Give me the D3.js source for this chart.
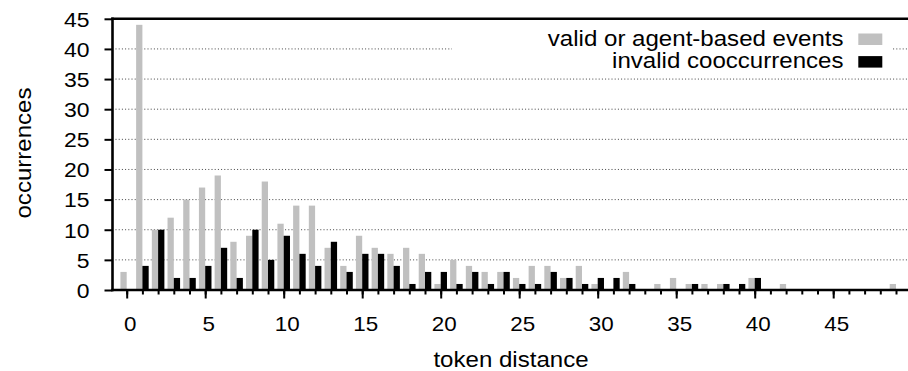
<!DOCTYPE html>
<html>
<head>
<meta charset="utf-8">
<script src="https://cdn.jsdelivr.net/npm/d3@7"></script>
<style>
  html, body { margin: 0; padding: 0; background: #fff; }
  svg { display: block; }
  text { font-family: "Liberation Sans", Arial, Helvetica, sans-serif; fill: #000; }
</style>
</head>
<body>
<svg id="chart" width="908" height="371"></svg>
<script>
// ---- data ----
const distances = [0,1,2,3,4,5,6,7,8,9,10,11,12,13,14,15,16,17,18,19,20,21,22,23,24,25,26,27,28,29,30,31,32,33,34,35,36,37,38,39,40,41,42,43,44,45,46,47,48,49];
const validEvents = [3,44,10,12,15,17,19,8,9,18,11,14,14,7,4,9,7,6,7,6,1,5,4,3,3,2,4,4,2,4,1,0,3,0,1,2,1,1,1,0,2,0,1,0,0,0,0,0,0,1];
const invalidCooc = [0,4,10,2,2,4,7,2,10,5,9,6,4,8,3,6,6,4,1,3,3,1,3,1,3,1,1,3,2,1,2,2,1,0,0,0,1,0,1,1,2,0,0,0,0,0,0,0,0,0];
const xTickLabels = [0,5,10,15,20,25,30,35,40,45];
const yTickLabels = [0,5,10,15,20,25,30,35,40,45];
const seriesNames = ["valid or agent-based events", "invalid cooccurrences"];
const seriesColors = ["#c0c0c0", "#000000"];

// ---- layout ----
const W = 908, H = 371;
const frameLeft = 112.5, frameRight = 908, frameTop = 18.8, frameBottom = 290;
const SX = 1.12; // horizontal text stretch

const svg = d3.select("#chart");

const x = d3.scaleLinear().domain([0, 49]).range([126.7, 896]);
const y = d3.scaleLinear().domain([0, 45]).range([frameBottom, frameTop]);
const halfW = x(0.4) - x(0);

// grid lines
svg.append("g")
  .selectAll("line")
  .data(yTickLabels.filter(v => v > 0 && v < 45))
  .join("line")
  .attr("x1", frameLeft + 3).attr("x2", frameRight)
  .attr("y1", d => y(d)).attr("y2", d => y(d))
  .attr("stroke", "#444").attr("stroke-width", 1)
  .attr("stroke-dasharray", "1,2.2");

// bars
const bars = svg.append("g");
bars.selectAll("rect.valid")
  .data(distances.map((d, i) => ({d, v: validEvents[i]})).filter(e => e.v > 0))
  .join("rect")
  .attr("class", "valid")
  .attr("x", e => x(e.d) - halfW)
  .attr("width", halfW)
  .attr("y", e => y(e.v))
  .attr("height", e => y(0) - y(e.v))
  .attr("fill", seriesColors[0]);
bars.selectAll("rect.invalid")
  .data(distances.map((d, i) => ({d, v: invalidCooc[i]})).filter(e => e.v > 0))
  .join("rect")
  .attr("class", "invalid")
  .attr("x", e => x(e.d))
  .attr("width", halfW)
  .attr("y", e => y(e.v))
  .attr("height", e => y(0) - y(e.v))
  .attr("fill", seriesColors[1]);

// legend (opaque box)
const legend = svg.append("g");
legend.append("rect")
  .attr("x", 452).attr("y", 24).attr("width", 440).attr("height", 48)
  .attr("fill", "#fff");
const legendRows = [45.7, 68.3];
seriesNames.forEach((name, i) => {
  legend.append("text")
    .attr("transform", `translate(843.5,${legendRows[i]}) scale(${SX},1)`)
    .attr("text-anchor", "end")
    .style("font-size", "21.5px")
    .text(name);
  legend.append("rect")
    .attr("x", 858.3).attr("y", legendRows[i] - 12.2)
    .attr("width", 24).attr("height", 11.5)
    .attr("fill", seriesColors[i]);
});

// x axis minor ticks
const xMinor = svg.append("g")
  .attr("transform", `translate(0,${frameBottom})`)
  .call(d3.axisBottom(x).tickValues(distances).tickSize(4.5).tickFormat(""));
xMinor.select(".domain").remove();
xMinor.selectAll(".tick line").attr("stroke", "#000").attr("stroke-width", 2);

// x axis major ticks + labels
const xMajor = svg.append("g")
  .attr("transform", `translate(0,${frameBottom})`)
  .call(d3.axisBottom(x).tickValues(xTickLabels).tickSize(8.5).tickPadding(18.5).tickFormat(d3.format("d")));
xMajor.select(".domain").remove();
xMajor.selectAll(".tick line").attr("stroke", "#000").attr("stroke-width", 2);
xMajor.selectAll(".tick text")
  .style("font-size", "20px")
  .attr("x", 3 / SX)
  .attr("transform", `scale(${SX},1)`);

// y axis
const yAxis = svg.append("g")
  .attr("transform", `translate(${frameLeft},0)`)
  .call(d3.axisLeft(y).tickValues(yTickLabels).tickSize(8).tickPadding(15).tickFormat(d3.format("d")));
yAxis.select(".domain").remove();
yAxis.selectAll(".tick line").attr("stroke", "#000").attr("stroke-width", 2);
yAxis.selectAll(".tick text")
  .style("font-size", "20.5px")
  .attr("x", -23 / SX)
  .attr("dy", "0.36em")
  .attr("transform", `scale(${SX},1)`);

// frame lines
const frame = svg.append("g").attr("stroke", "#000").attr("stroke-width", 2.6).attr("fill", "none");
frame.append("line").attr("x1", frameLeft).attr("x2", frameLeft).attr("y1", frameTop - 1.3).attr("y2", frameBottom + 1.3);
frame.append("line").attr("x1", frameLeft - 1.3).attr("x2", frameRight).attr("y1", frameTop).attr("y2", frameTop);
frame.append("line").attr("x1", frameLeft - 1.3).attr("x2", frameRight).attr("y1", frameBottom).attr("y2", frameBottom);

// axis titles
svg.append("text")
  .attr("transform", `translate(511,366.5) scale(${SX},1)`)
  .attr("text-anchor", "middle")
  .style("font-size", "21.5px")
  .text("token distance");
svg.append("text")
  .attr("transform", `translate(30.5,153) rotate(-90) scale(${SX},1)`)
  .attr("text-anchor", "middle")
  .style("font-size", "21.5px")
  .text("occurrences");
</script>
</body>
</html>
